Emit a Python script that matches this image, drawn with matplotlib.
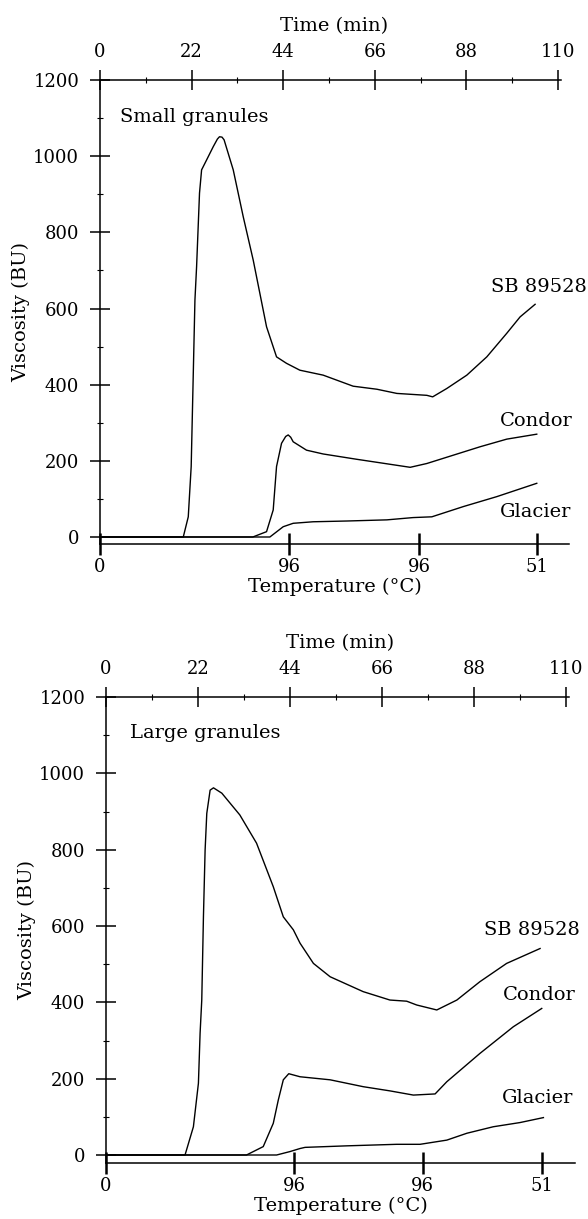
import matplotlib
matplotlib.use("Agg")
import matplotlib.pyplot as plt
from matplotlib.ticker import MultipleLocator, FixedLocator

plt.rcParams['font.family'] = ['DejaVu Serif']

# ---------------- data ----------------
time_ticks = [0, 22, 44, 66, 88, 110]
visc_ticks = [0, 200, 400, 600, 800, 1000, 1200]
temp_labels = ['0', '96', '96', '51']

# Small granules panel
small_temp_tick_times = [0, 45.4, 76.6, 105.0]
small_sb_t = [0, 20.0, 21.2, 21.9, 22.8, 23.2, 23.9, 24.4, 25.6, 27.2, 28.2, 28.7, 29.3, 29.8,
              32.0, 34.4, 36.8, 40.0, 42.4, 44.8, 48.0, 53.6, 60.8, 66.5, 71.3, 78.5, 79.9,
              83.3, 88.1, 92.9, 97.7, 100.9, 104.5]
small_sb_v = [0, 0, 53, 185, 622, 710, 903, 964, 990, 1025, 1045, 1051, 1050, 1043,
              964, 841, 727, 552, 473, 456, 438, 425, 396, 388, 377, 372, 368,
              390, 425, 473, 535, 578, 611]
small_condor_t = [0, 36.7, 40.0, 41.6, 42.4, 43.6, 44.6, 45.2, 45.8, 46.4, 49.6, 53.6, 61.7,
                  67.2, 74.5, 78.5, 84.9, 91.3, 97.7, 104.9]
small_condor_v = [0, 0, 14, 71, 185, 246, 264, 268, 262, 250, 228, 218, 204,
                  195, 183, 193, 215, 237, 257, 270]
small_glacier_t = [0, 40.8, 44.0, 46.4, 51.2, 59.3, 68.9, 75.2, 79.7, 87.3, 95.3, 104.9]
small_glacier_v = [0, 0, 27, 36, 40, 42, 45, 51, 53, 80, 106, 141]

# Large granules panel
large_temp_tick_times = [0, 45.0, 75.7, 104.3]
large_sb_t = [0, 18.9, 20.9, 22.1, 22.5, 22.9, 23.3, 23.7, 24.1, 24.9, 25.7, 27.7, 32.0, 36.0,
              40.0, 42.4, 44.8, 46.4, 49.6, 53.6, 61.5, 67.9, 71.9, 74.3, 79.1, 83.9, 89.4,
              95.8, 103.8]
large_sb_v = [0, 0, 74, 188, 319, 406, 624, 799, 895, 956, 962, 948, 891, 817,
              703, 624, 590, 555, 502, 467, 428, 406, 403, 393, 380, 406, 454,
              502, 541]
large_condor_t = [0, 33.6, 37.6, 40.0, 41.2, 42.4, 43.7, 46.4, 53.6, 61.5, 67.9, 73.5, 78.7,
                  81.5, 89.4, 97.4, 104.2]
large_condor_v = [0, 0, 22, 83, 144, 197, 213, 205, 197, 179, 168, 157, 160,
                  192, 266, 336, 384]
large_glacier_t = [0, 40.8, 44.0, 46.4, 47.6, 57.6, 69.5, 75.1, 81.5, 86.3, 92.6, 99.0, 104.6]
large_glacier_v = [0, 0, 9, 17, 20, 24, 28, 28, 39, 57, 74, 85, 98]

series_names = ['SB 89528', 'Condor', 'Glacier']

# ---------------- drawing ----------------
W, H = 588, 1219
fig = plt.figure(figsize=(W / 100, H / 100), dpi=100)

LW_AX = 1.1
FS_TICK = 13
FS_TXT = 14


def panel(left_px, px_per_min, y1200_px, y0_px, ybot_px, right_px,
          title, title_xy, curves, labels_xy, temp_times):
    xmax = (right_px - left_px) / px_per_min
    ymin = -(ybot_px - y0_px) * 1200.0 / (y0_px - y1200_px)
    rect = [left_px / W, 1 - ybot_px / H, (right_px - left_px) / W, (ybot_px - y1200_px) / H]
    ax = fig.add_axes(rect)
    ax.set_xlim(0, xmax)
    ax.set_ylim(ymin, 1200)
    for s in ['top', 'right']:
        ax.spines[s].set_visible(False)
    ax.spines['left'].set_linewidth(LW_AX)
    ax.spines['bottom'].set_linewidth(LW_AX)

    # curves
    for (t, v) in curves:
        ax.plot(t, v, color='black', lw=1.0, solid_joinstyle='round')
    for name, (tx, ty) in zip(series_names, labels_xy):
        ax.text(tx, ty, name, fontsize=FS_TXT, ha='left', va='center')
    ax.text(title_xy[0], title_xy[1], title, fontsize=FS_TXT, ha='left', va='center')

    # y axis
    ax.yaxis.set_major_locator(FixedLocator(visc_ticks))
    ax.yaxis.set_minor_locator(MultipleLocator(100))
    ax.tick_params(axis='y', which='major', direction='inout', length=14, width=1.1,
                   labelsize=FS_TICK, pad=8)
    ax.tick_params(axis='y', which='minor', direction='inout', length=5, width=0.8)
    ax.set_ylabel('Viscosity (BU)', fontsize=FS_TXT, labelpad=2)

    # temperature axis (bottom)
    ax.xaxis.set_major_locator(FixedLocator(temp_times))
    ax.set_xticklabels(temp_labels)
    ax.tick_params(axis='x', which='major', direction='inout', length=16, width=1.8,
                   labelsize=FS_TICK, pad=2)
    ax.xaxis.get_major_ticks()[0].tick1line.set_visible(False)
    ax.set_xlabel('Temperature (°C)', fontsize=FS_TXT, labelpad=1)

    # time axis (top)
    ax2 = ax.twiny()
    ax2.set_xlim(0, xmax)
    for s in ['bottom', 'left', 'right']:
        ax2.spines[s].set_visible(False)
    ax2.spines['top'].set_bounds(0, 110.8)
    ax2.spines['top'].set_linewidth(LW_AX)
    ax2.xaxis.set_major_locator(FixedLocator(time_ticks))
    ax2.xaxis.set_minor_locator(FixedLocator([11, 33, 55, 77, 99]))
    ax2.tick_params(axis='x', which='major', direction='inout', length=14, width=1.1,
                    labelsize=FS_TICK, pad=7)
    ax2.tick_params(axis='x', which='minor', direction='inout', length=5, width=0.8)
    ax2.set_xlabel('Time (min)', fontsize=FS_TXT, labelpad=8)
    return ax


panel(100, 458 / 110, 80, 537, 544, 569,
      'Small granules', (4.8, 1103),
      [(small_sb_t, small_sb_v), (small_condor_t, small_condor_v),
       (small_glacier_t, small_glacier_v)],
      [(94.0, 656), (96.1, 305), (96.1, 66)],
      small_temp_tick_times)

panel(106, 460 / 110, 697, 1155, 1163, 575,
      'Large granules', (5.7, 1106),
      [(large_sb_t, large_sb_v), (large_condor_t, large_condor_v),
       (large_glacier_t, large_glacier_v)],
      [(90.4, 590), (94.9, 419), (94.6, 149)],
      large_temp_tick_times)

fig.savefig('out.png', dpi=100)
